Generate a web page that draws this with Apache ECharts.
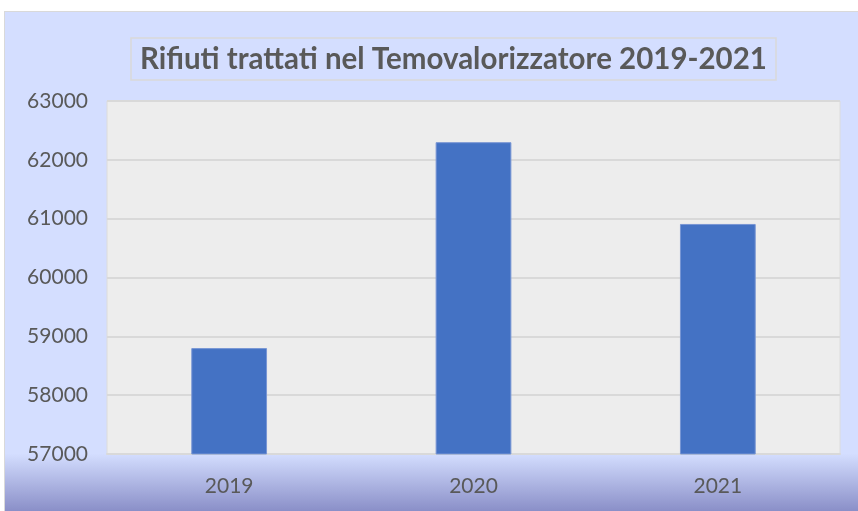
<!DOCTYPE html>
<html lang="it">
  <head>
    <meta charset="UTF-8" />
    <title>Rifiuti trattati nel Temovalorizzatore 2019-2021</title>
    <script src="https://cdn.jsdelivr.net/npm/echarts@6/dist/echarts.min.js"></script>
    <style>
      * {
        margin: 0;
        padding: 0;
      }
      body {
        background: #fff;
      }
      #main {
        position: absolute;
        left: 4px;
        top: 11px;
        width: 854px;
        height: 500px;
        border-left: 1px solid #d9d9d9;
        border-top: 1px solid #d9d9d9;
        box-sizing: border-box;
      }
    </style>
  </head>
  <body>
    <div id="main"></div>
    <script>
      // dati
      var anni = ['2019', '2020', '2021'];
      var tonnellate = [58800, 62300, 60910];

      var myChart = echarts.init(document.getElementById('main'));
      myChart.setOption({
        backgroundColor: new echarts.graphic.LinearGradient(0, 0, 0, 1, [
          { offset: 0, color: '#d4deff' },
          { offset: 0.885, color: '#d4deff' },
          { offset: 1, color: '#8a8fc8' }
        ]),
        title: {
          text: 'Rifiuti trattati nel Temovalorizzatore 2019-2021',
          left: 126,
          top: 26,
          padding: [6, 9, 6, 9],
          borderColor: '#d9d9d9',
          borderWidth: 1.5,
          textStyle: {
            fontFamily: 'Lato',
            fontWeight: 'bold',
            fontSize: 29.5,
            color: '#595959'
          }
        },
        grid: {
          left: 102,
          top: 89,
          right: 18,
          bottom: 57,
          show: true,
          backgroundColor: '#ededed',
          borderColor: '#dcdcdc',
          borderWidth: 1
        },
        xAxis: {
          type: 'category',
          data: anni,
          axisTick: { show: false },
          axisLine: { lineStyle: { color: '#d9d9d9', width: 2 } },
          axisLabel: {
            margin: 22,
            fontFamily: 'Lato',
            fontSize: 21,
            color: '#595959'
          }
        },
        yAxis: {
          type: 'value',
          min: 57000,
          max: 63000,
          interval: 1000,
          axisLine: { show: false },
          axisTick: { show: false },
          splitLine: { lineStyle: { color: '#d9d9d9', width: 2 } },
          axisLabel: {
            margin: 19,
            fontFamily: 'Lato',
            fontSize: 21,
            color: '#595959',
            formatter: function (v) {
              return String(v);
            }
          }
        },
        series: [
          {
            type: 'bar',
            data: tonnellate,
            barWidth: '31%',
            itemStyle: {
              color: '#4472c4',
              borderColor: '#7895d4',
              borderWidth: 1
            }
          }
        ]
      });
    </script>
  </body>
</html>
